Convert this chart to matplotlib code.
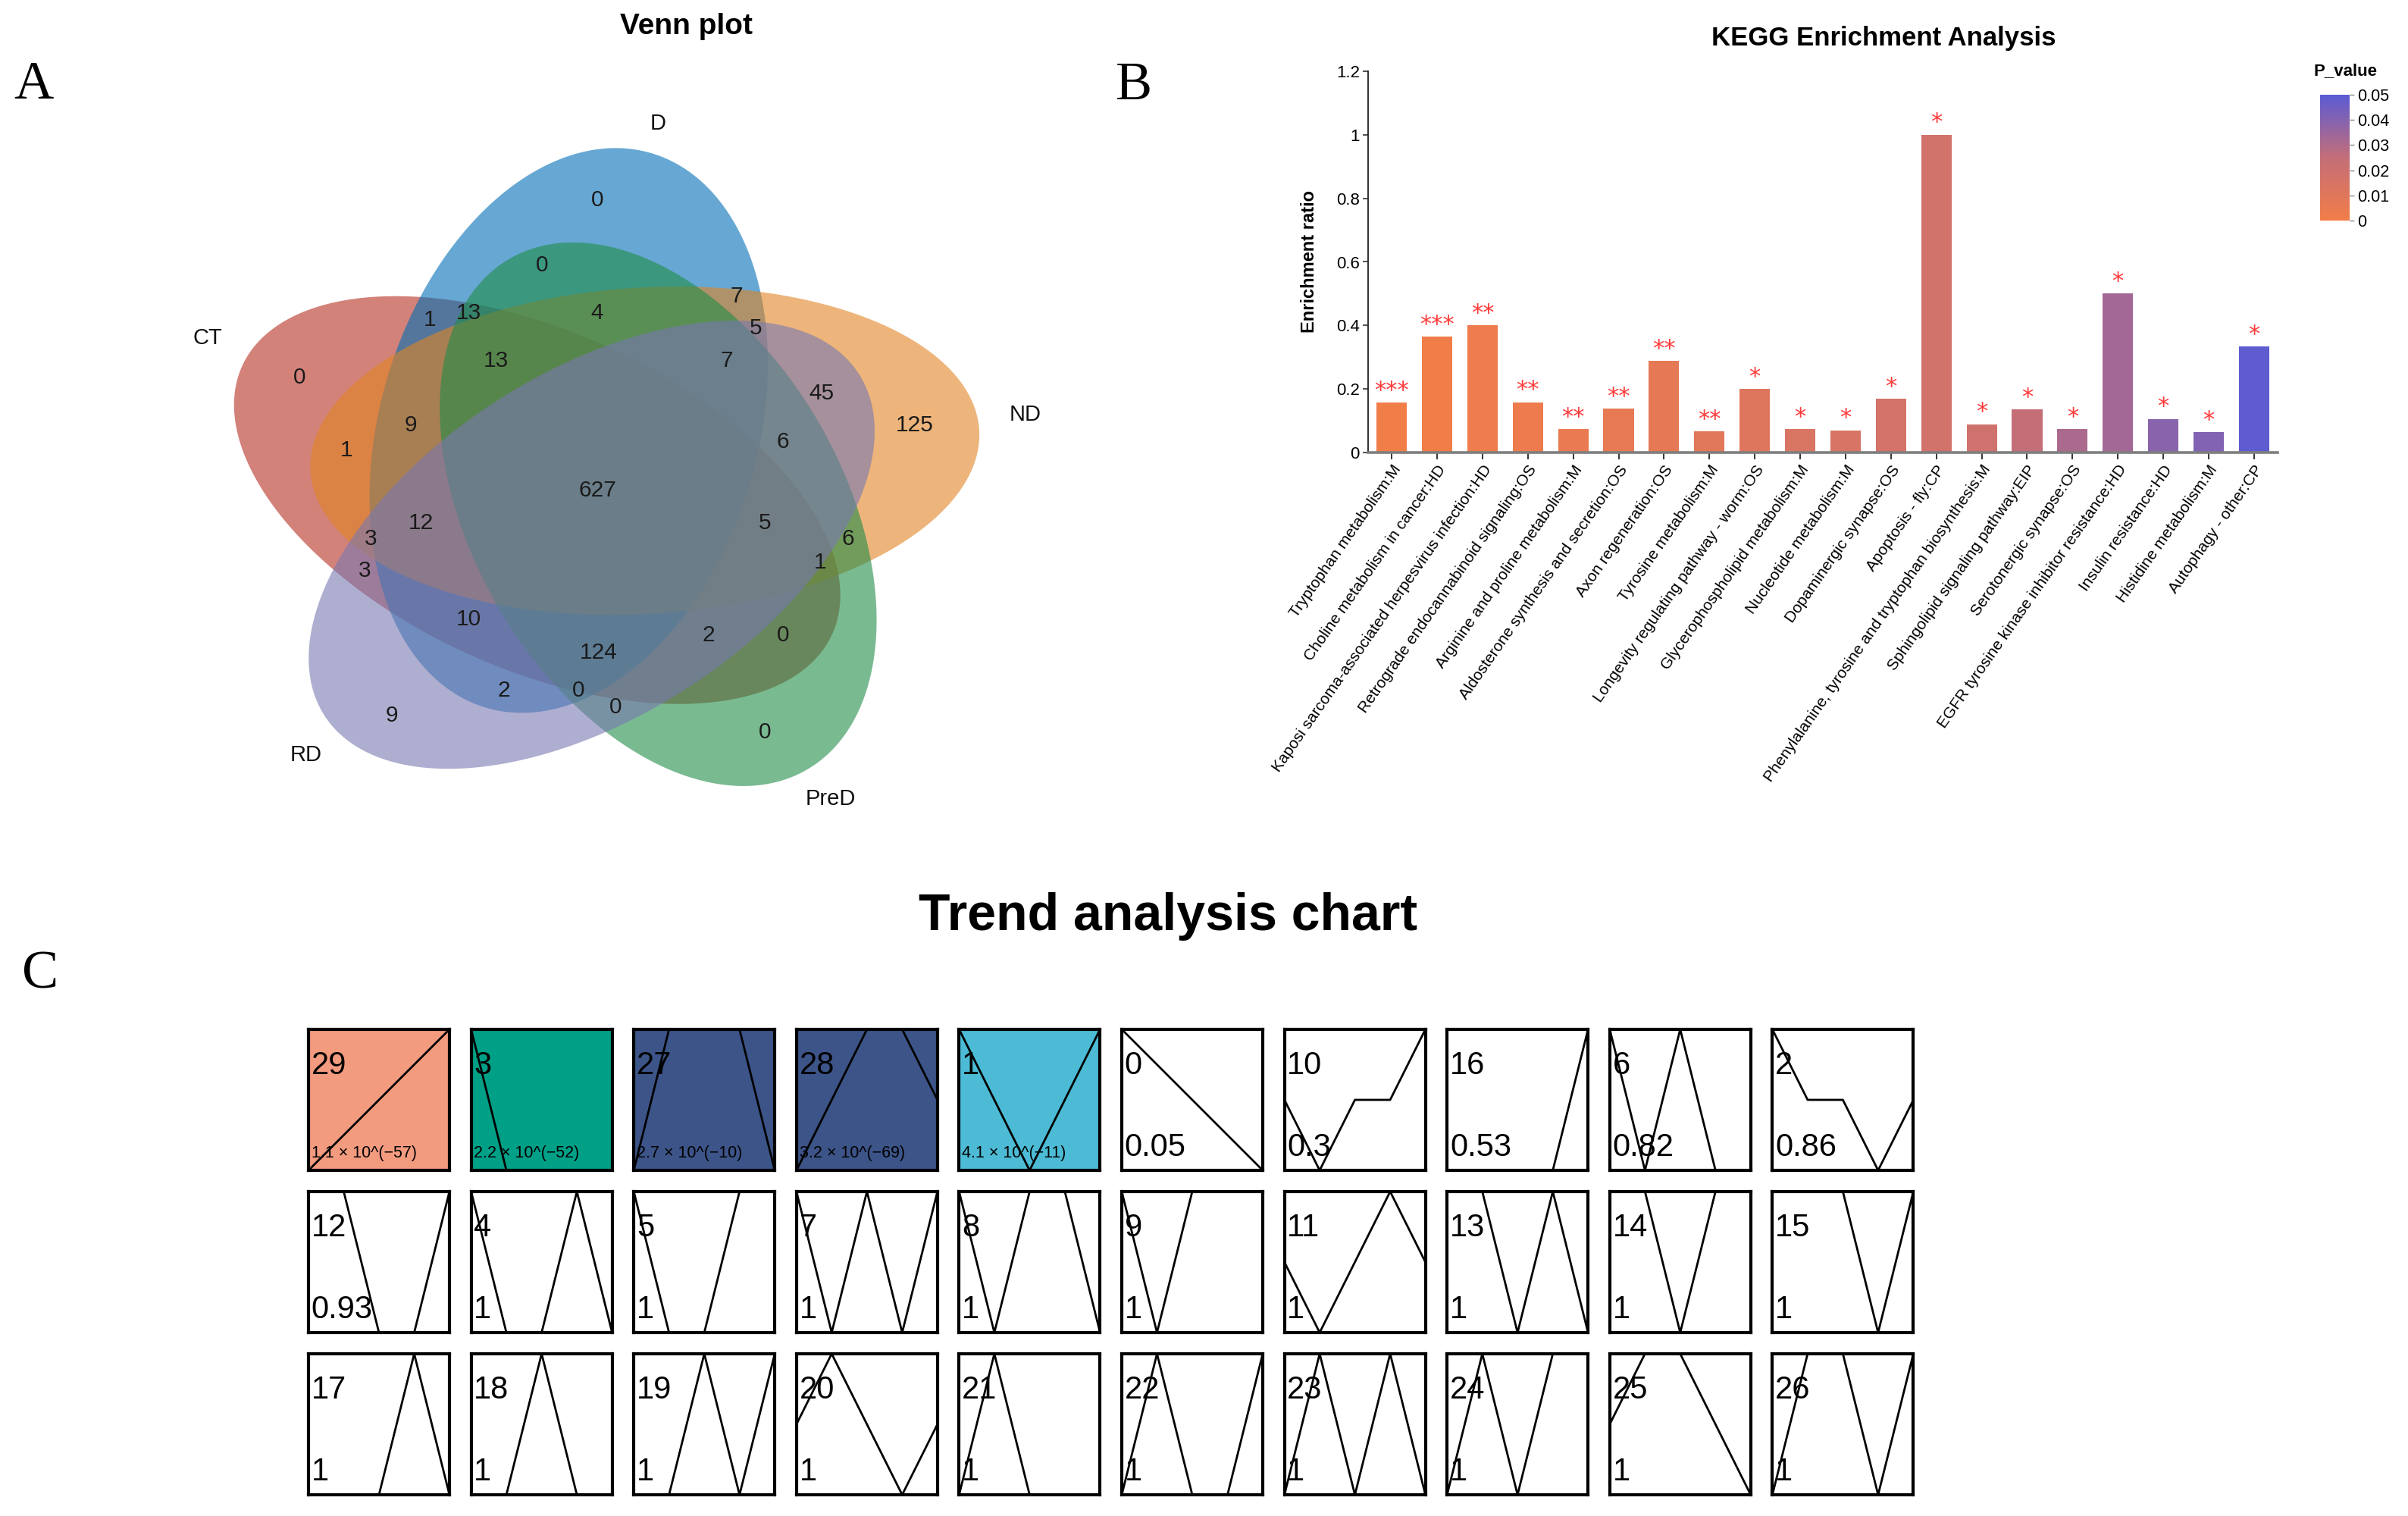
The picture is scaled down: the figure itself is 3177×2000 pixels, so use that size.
import numpy as np
import matplotlib
matplotlib.use("Agg")
import matplotlib.pyplot as plt
from matplotlib.patches import Polygon
from matplotlib.colors import LinearSegmentedColormap, Normalize
import matplotlib.cm as cm

# ------------------------------------------------------------------ data
venn_sets = ["CT", "D", "ND", "PreD", "RD"]
venn_fills = ["#B72F21", "#006EB6", "#E18423", "#218C48", "#7878B1"]
venn_counts = [0, 0, 7, 1, 13, 4, 5, 13, 7, 45, 125, 0, 9, 1, 6, 627,
               12, 5, 3, 6, 3, 1, 10, 2, 0, 124, 2, 0, 0, 9, 0]

kegg_terms = [
    "Tryptophan metabolism:M",
    "Choline metabolism in cancer:HD",
    "Kaposi sarcoma-associated herpesvirus infection:HD",
    "Retrograde endocannabinoid signaling:OS",
    "Arginine and proline metabolism:M",
    "Aldosterone synthesis and secretion:OS",
    "Axon regeneration:OS",
    "Tyrosine metabolism:M",
    "Longevity regulating pathway - worm:OS",
    "Glycerophospholipid metabolism:M",
    "Nucleotide metabolism:M",
    "Dopaminergic synapse:OS",
    "Apoptosis - fly:CP",
    "Phenylalanine, tyrosine and tryptophan biosynthesis:M",
    "Sphingolipid signaling pathway:EIP",
    "Serotonergic synapse:OS",
    "EGFR tyrosine kinase inhibitor resistance:HD",
    "Insulin resistance:HD",
    "Histidine metabolism:M",
    "Autophagy - other:CP",
]
kegg_ratio = [0.157, 0.364, 0.40, 0.158, 0.074, 0.138, 0.288, 0.066, 0.20, 0.074,
              0.070, 0.169, 1.0, 0.089, 0.135, 0.074, 0.50, 0.106, 0.064, 0.333]
kegg_p = [0.0005, 0.0007, 0.0025, 0.003, 0.005, 0.006, 0.007, 0.009, 0.011, 0.014,
          0.015, 0.017, 0.018, 0.019, 0.025, 0.031, 0.033, 0.039, 0.041, 0.049]
kegg_stars = ["***", "***", "**", "**", "**", "**", "**", "**", "*", "*",
              "*", "*", "*", "*", "*", "*", "*", "*", "*", "*"]

trend_ids = [[29, 3, 27, 28, 1, 0, 10, 16, 6, 2],
             [12, 4, 5, 7, 8, 9, 11, 13, 14, 15],
             [17, 18, 19, 20, 21, 22, 23, 24, 25, 26]]
trend_pvals = [["1.1 × 10^(−57)", "2.2 × 10^(−52)", "2.7 × 10^(−10)", "3.2 × 10^(−69)",
                "4.1 × 10^(−11)", "0.05", "0.3", "0.53", "0.82", "0.86"],
               ["0.93", "1", "1", "1", "1", "1", "1", "1", "1", "1"],
               ["1", "1", "1", "1", "1", "1", "1", "1", "1", "1"]]
# profile values over 5 time points (box units: 0 = bottom, 1 = top)
trend_profiles = {
    29: [0, .25, .5, .75, 1], 3: [1, 0, -1, -1, -1], 27: [0, 1, 2, 1, 0],
    28: [0, .5, 1, 1, .5], 1: [1, .5, 0, .5, 1], 0: [1, .75, .5, .25, 0],
    10: [.5, 0, .5, .5, 1], 16: [-1, -1, -1, 0, 1], 6: [1, 0, 1, 0, -1],
    2: [1, .5, .5, 0, .5], 12: [2, 1, 0, 0, 1], 4: [1, 0, 0, 1, 0],
    5: [1, 0, 0, 1, 2], 7: [1, 0, 1, 0, 1], 8: [1, 0, 1, 1, 0],
    9: [1, 0, 1, 2, 2], 11: [.5, 0, .5, 1, .5], 13: [2, 1, 0, 1, 0],
    14: [2, 1, 0, 1, 2], 15: [2, 2, 1, 0, 1], 17: [-1, -1, 0, 1, 0],
    18: [-1, 0, 1, 0, -1], 19: [-1, 0, 1, 0, 1], 20: [.5, 1, .5, 0, .5],
    21: [0, 1, 0, -1, -1], 22: [0, 1, 0, 0, 1], 23: [0, 1, 0, 1, 0],
    24: [0, 1, 0, 1, 2], 25: [.5, 1, 1, .5, 0], 26: [0, 1, 1, 0, 1],
}
trend_colors = {29: "#F39B7F", 3: "#00A087", 27: "#3C5488", 28: "#3C5488", 1: "#4DBBD5"}

# ------------------------------------------------------------------ layout
W, H = 3177, 2000
fig = plt.figure(figsize=(W / 100, H / 100), dpi=100)
SANS = "Liberation Sans"
SERIF = "Liberation Serif"

ov = fig.add_axes([0, 0, 1, 1])
ov.set_xlim(0, W)
ov.set_ylim(H, 0)
ov.axis("off")

# panel letters
ov.text(18, 130, "A", fontsize=52, family=SERIF, ha="left", va="baseline")
ov.text(1472, 131, "B", fontsize=52, family=SERIF, ha="left", va="baseline")
ov.text(29, 1303, "C", fontsize=52, family=SERIF, ha="left", va="baseline")

# ------------------------------------------------------------------ Venn
ov.text(906, 45, "Venn plot", fontsize=28, family=SANS, weight="bold", ha="center", va="baseline")
VC = (792.1, 646.9)
STRETCH = 1.17
SEMI_A, SEMI_B, OFF_R = 378.1, 215.1, 72.4
axis_ang = {"ND": 4.7, "D": 78.0, "CT": 148.7, "RD": 220.7, "PreD": 292.7}
nudge = {"ND": (0, 0), "D": (0, -16), "CT": (0, 0), "RD": (0, 0), "PreD": (0, 0)}
t = np.linspace(0, 2 * np.pi, 500)
for name, col in zip(venn_sets, venn_fills):
    th = np.deg2rad(axis_ang[name])
    ph = np.deg2rad(axis_ang[name] + 41.5)
    u = SEMI_A * np.cos(t)
    v = SEMI_B * np.sin(t)
    ur = u * np.cos(th) - v * np.sin(th) + OFF_R * np.cos(ph)
    vr = u * np.sin(th) + v * np.cos(th) + OFF_R * np.sin(ph)
    xs = VC[0] + STRETCH * ur + nudge[name][0]
    ys = VC[1] - vr + nudge[name][1]
    ov.add_patch(Polygon(np.column_stack([xs, ys]), closed=True, facecolor=col,
                         alpha=0.6, edgecolor="none"))

venn_label_xy = [(274, 446), (868, 163), (1353, 547), (1096, 1054), (404, 996)]
for name, (x, y) in zip(venn_sets, venn_label_xy):
    ov.text(x, y, name, fontsize=21, family=SANS, ha="center", va="center", color="#111111")

venn_count_xy = [(788, 264), (715, 350), (972, 391), (567, 422), (618, 413), (788, 413),
                 (997, 433), (654, 476), (959, 476), (1084, 519), (1207, 561), (395, 498),
                 (542, 561), (457, 594), (1033, 583), (788, 647), (555, 690), (1009, 690),
                 (489, 711), (1119, 711), (481, 753), (1082, 742), (618, 817), (935, 838),
                 (1033, 838), (790, 861), (665, 911), (763, 911), (812, 933), (517, 944),
                 (1009, 966)]
for cnt, (x, y) in zip(venn_counts, venn_count_xy):
    ov.text(x, y, str(cnt), fontsize=21.5, family=SANS, ha="center", va="center", color="#1a1a1a")

# ------------------------------------------------------------------ KEGG bar chart
ov.text(2485, 60, "KEGG Enrichment Analysis", fontsize=25, family=SANS, weight="bold",
        ha="center", va="baseline")
ov.text(1727, 345, "Enrichment ratio", fontsize=17, family=SANS, weight="bold",
        ha="center", va="center", rotation=90)

cmap = LinearSegmentedColormap.from_list("pv", ["#F27D48", "#C46E78", "#5B5BD4"])
norm = Normalize(0, 0.05)

axb = fig.add_axes([1805 / W, 1 - 597 / H, 1200 / W, (597 - 94) / H])
xpos = np.arange(len(kegg_terms))
axb.bar(xpos, kegg_ratio, width=0.67, color=[cmap(norm(p)) for p in kegg_p], edgecolor="none")
for x, h, s in zip(xpos, kegg_ratio, kegg_stars):
    axb.annotate(s, (x, h), xytext=(0, 1), textcoords="offset points", ha="center",
                 va="bottom", color="#FF3B3B", fontsize=22, family="DejaVu Sans")
axb.set_xlim(-0.52, len(kegg_terms) - 0.48)
axb.set_ylim(0, 1.2)
axb.set_yticks([0, 0.2, 0.4, 0.6, 0.8, 1.0, 1.2])
axb.set_yticklabels(["0", "0.2", "0.4", "0.6", "0.8", "1", "1.2"], fontsize=16, family=SANS)
axb.set_xticks(xpos)
axb.set_xticklabels(kegg_terms, rotation=55, ha="right", rotation_mode="anchor",
                    fontsize=15, family=SANS)
for sp in ["top", "right"]:
    axb.spines[sp].set_visible(False)
axb.spines["left"].set_linewidth(1.3)
axb.spines["left"].set_color("#222222")
axb.spines["bottom"].set_linewidth(2.6)
axb.spines["bottom"].set_color("#7f7f7f")
axb.tick_params(axis="x", length=6.5, width=1.4, color="#333333", pad=3)
axb.tick_params(axis="y", length=5, width=1.2, color="#333333", pad=3)
axb.set_facecolor("none")

# colour bar
cax = fig.add_axes([3061 / W, 1 - 291 / H, 39 / W, 166 / H])
cb = fig.colorbar(cm.ScalarMappable(norm=norm, cmap=cmap), cax=cax,
                  ticks=[0, 0.01, 0.02, 0.03, 0.04, 0.05])
cb.outline.set_visible(False)
cb.ax.set_yticklabels(["0", "0.01", "0.02", "0.03", "0.04", "0.05"], fontsize=15.5, family=SANS)
cb.ax.tick_params(length=4, width=1, color="#888888", pad=3)
ov.text(3095, 99, "P_value", fontsize=16, family=SANS, weight="bold", ha="center", va="baseline")

# ------------------------------------------------------------------ trend panel
ov.text(1541, 1227, "Trend analysis chart", fontsize=49, family=SANS, weight="bold",
        ha="center", va="baseline")
BOX = 186
col_left = [407 + 214.6 * c for c in range(10)]
row_top = [1358, 1572, 1786]
for r in range(3):
    for c in range(10):
        pid = trend_ids[r][c]
        ax = fig.add_axes([col_left[c] / W, 1 - (row_top[r] + BOX) / H, BOX / W, BOX / H])
        ax.set_xlim(0, 4)
        ax.set_ylim(0, 1)
        ax.set_facecolor(trend_colors.get(pid, "white"))
        ax.plot(range(5), trend_profiles[pid], color="black", lw=2.0)
        ax.set_xticks([])
        ax.set_yticks([])
        for sp in ax.spines.values():
            sp.set_linewidth(3)
            sp.set_color("black")
        ax.text(0.02, 0.685, str(pid), transform=ax.transAxes, fontsize=30, family=SANS,
                ha="left", va="baseline")
        ptxt = trend_pvals[r][c]
        if "×" in ptxt:
            ax.text(0.02, 0.09, ptxt, transform=ax.transAxes, fontsize=15.5, family=SANS,
                    ha="left", va="baseline")
        else:
            ax.text(0.02, 0.10, ptxt, transform=ax.transAxes, fontsize=30, family=SANS,
                    ha="left", va="baseline")

fig.savefig("out.png", dpi=100)
